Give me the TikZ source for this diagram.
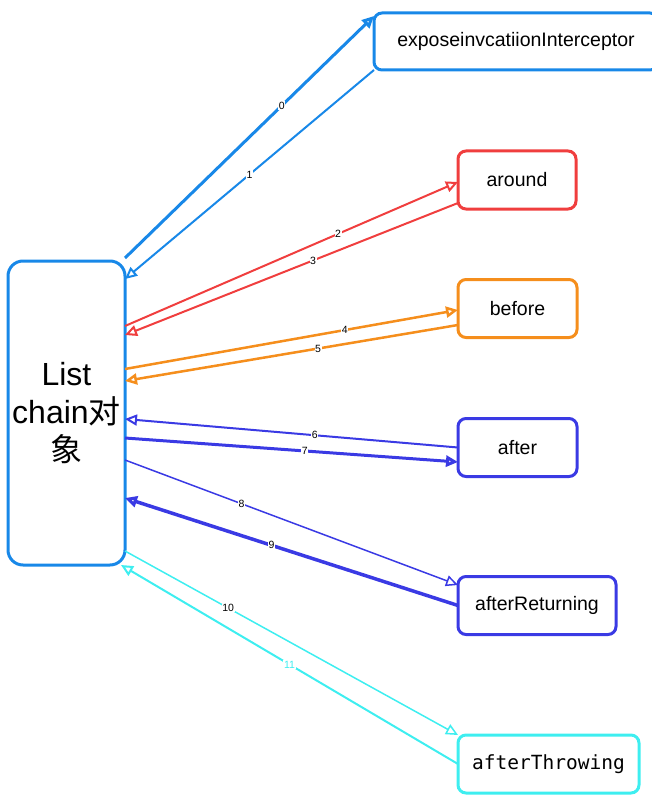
\documentclass[tikz,border=0pt]{standalone}
\usepackage{fontspec}
\setmainfont{Liberation Sans}
\setmonofont{DejaVu Sans Mono}
\newfontfamily\cjk{Noto Sans CJK SC}
\usetikzlibrary{arrows.meta}
\definecolor{listblue}{RGB}{24,136,232}
\definecolor{aroundred}{RGB}{240,62,62}
\definecolor{beforeorange}{RGB}{245,142,28}
\definecolor{aftervio}{RGB}{58,58,228}
\definecolor{throwcyan}{RGB}{62,238,240}
\begin{document}
\begin{tikzpicture}[x=1pt,y=-1pt,
  box/.style={draw=#1,line width=3pt,rounded corners=8pt,outer sep=0pt,
    minimum height=58pt,inner sep=0pt,font=\fontsize{19.5}{22}\selectfont},
  link/.style={line width=2pt,-{Triangle[open,length=12pt,width=11pt]}},
  num/.style={fill=white,inner sep=0.6pt,text=black,font=\fontsize{10.5}{11}\selectfont}]
  \useasboundingbox (0,0) rectangle (651,805);
  % boxes
  \node[box=listblue,rounded corners=15pt,minimum width=117pt,minimum height=304pt,
    align=center,font=\fontsize{32}{38}\selectfont] (list) at (66.5,413)
    {List\\chain{\cjk 对}\\{\cjk 象}};
  \node[box=listblue,minimum width=284pt,minimum height=57pt] (expose) at (516,41.5)
    {exposeinvcatiionInterceptor};
  \node[box=aroundred,minimum width=118pt] (around) at (517,180) {around};
  \node[box=beforeorange,minimum width=119pt] (before) at (517.5,308.5) {before};
  \node[box=aftervio,minimum width=119pt] (after) at (517.5,447.5) {after};
  \node[box=aftervio,minimum width=158pt] (returning) at (537,605.5) {afterReturning};
  \node[box=throwcyan,minimum width=181pt,font=\ttfamily\fontsize{19.5}{22}\selectfont]
    (throwing) at (548.5,764) {afterThrowing};
  % calls
  \draw[link,listblue,line width=3pt] ([yshift=3pt]list.north east)
    -- node[num,pos=0.63]{0} ([yshift=-3pt]expose.north west);
  \draw[link,listblue] (expose.south west)
    -- node[num,pos=0.5]{1} ([yshift=-18pt]list.north east);
  \draw[link,aroundred] ([yshift=-65pt]list.north east)
    -- node[num,pos=0.64]{2} ([yshift=-2pt]around.west);
  \draw[link,aroundred] ([yshift=-23pt]around.west)
    -- node[num,pos=0.435]{3} ([yshift=-74pt]list.north east);
  \draw[link,beforeorange,line width=2.5pt] ([yshift=-108pt]list.north east)
    -- node[num,pos=0.66]{4} ([yshift=-1.5pt]before.west);
  \draw[link,beforeorange,line width=2.5pt] ([yshift=-16.5pt]before.west)
    -- node[num,pos=0.42]{5} ([yshift=-120pt]list.north east);
  \draw[link,aftervio] (after.west)
    -- node[num,pos=0.43]{6} ([yshift=-158pt]list.north east);
  \draw[link,aftervio,line width=3pt] ([yshift=-177pt]list.north east)
    -- node[num,pos=0.54]{7} ([yshift=-14.5pt]after.west);
  \draw[link,aftervio,line width=1.5pt] ([yshift=-199pt]list.north east)
    -- node[num,pos=0.35]{8} ([yshift=20.5pt]returning.west);
  \draw[link,aftervio,line width=3.5pt] (returning.west)
    -- node[num,pos=0.56]{9} ([yshift=-237pt]list.north east);
  \draw[link,throwcyan,line width=1.5pt] ([yshift=-290pt]list.north east)
    -- node[num,pos=0.31]{10} ([yshift=29pt]throwing.west);
  \draw[link,throwcyan] (throwing.west)
    -- node[num,pos=0.5,text=throwcyan]{11} ([xshift=-4pt]list.south east);
\end{tikzpicture}
\end{document}
